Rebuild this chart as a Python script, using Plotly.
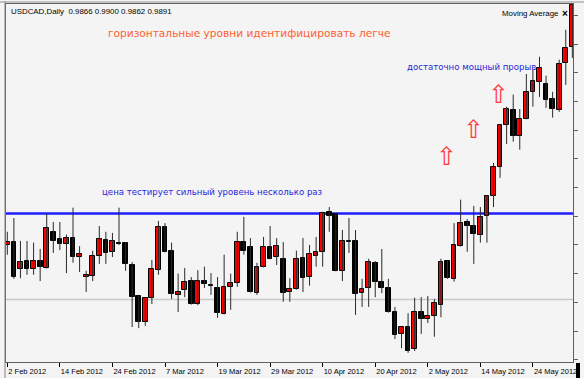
import plotly.graph_objects as go

# ---- data ----
tick_labels = ["2 Feb 2012", "14 Feb 2012", "24 Feb 2012", "7 Mar 2012", "19 Mar 2012",
               "29 Mar 2012", "10 Apr 2012", "20 Apr 2012", "2 May 2012", "14 May 2012",
               "24 May 2012"]
tick_positions = [0, 8, 16, 24, 32, 40, 48, 56, 64, 72, 80]

opens = [0.9995, 1.0000, 0.9953, 0.9967, 0.9953, 0.9967, 0.9955, 1.0018, 1.0006, 0.9997,
         1.0007, 0.9974, 0.9939, 0.9941, 0.9976, 1.0004, 0.9983, 0.9999, 0.9999, 0.9960,
         0.9906, 0.9861, 0.9903, 0.9951, 1.0026, 0.9985, 0.9908, 0.9917, 0.9932, 0.9892,
         0.9932, 0.9925, 0.9920, 0.9875, 0.9922, 0.9929, 1.0000, 0.9992, 0.9911, 0.9957,
         0.9992, 0.9974, 0.9971, 0.9913, 0.9918, 0.9972, 0.9939, 0.9976, 0.9983, 1.0053,
         1.0049, 0.9950, 1.0002, 1.0002, 0.9911, 0.9920, 0.9964, 0.9931, 0.9920, 0.9878,
         0.9840, 0.9852, 0.9814, 0.9878, 0.9866, 0.9871, 0.9890, 0.9967, 0.9936, 0.9993,
         1.0035, 1.0028, 1.0013, 1.0046, 1.0081, 1.0131, 1.0204, 1.0231, 1.0185, 1.0215,
         1.0262, 1.0279, 1.0276, 1.0250, 1.0231, 1.0313, 1.0340]
highs = [1.0018, 1.0042, 1.0002, 1.0002, 0.9999, 0.9988, 1.0049, 1.0035, 1.0035, 1.0013,
         1.0060, 0.9993, 0.9950, 0.9985, 1.0028, 1.0018, 1.0016, 1.0060, 1.0000, 0.9965,
         0.9906, 0.9904, 0.9969, 1.0037, 1.0033, 0.9999, 0.9945, 0.9955, 0.9939, 0.9951,
         0.9957, 0.9946, 0.9939, 0.9978, 0.9945, 1.0018, 1.0044, 1.0007, 0.9964, 1.0009,
         1.0028, 1.0007, 1.0000, 0.9937, 0.9985, 1.0007, 0.9995, 1.0009, 1.0053, 1.0061,
         1.0050, 1.0021, 1.0042, 1.0021, 0.9936, 0.9971, 0.9967, 0.9988, 0.9936, 0.9887,
         0.9853, 0.9876, 0.9903, 0.9904, 0.9906, 0.9901, 0.9971, 0.9968, 1.0033, 1.0074,
         1.0040, 1.0063, 1.0061, 1.0082, 1.0138, 1.0205, 1.0236, 1.0257, 1.0232, 1.0293,
         1.0300, 1.0323, 1.0290, 1.0262, 1.0318, 1.0370, 1.0417]
lows = [0.9978, 0.9936, 0.9937, 0.9943, 0.9943, 0.9932, 0.9954, 0.9981, 0.9986, 0.9946,
        0.9964, 0.9948, 0.9913, 0.9932, 0.9962, 0.9962, 0.9974, 0.9995, 0.9950, 0.9852,
        0.9850, 0.9854, 0.9892, 0.9943, 0.9982, 0.9901, 0.9878, 0.9904, 0.9891, 0.9890,
        0.9920, 0.9908, 0.9868, 0.9874, 0.9882, 0.9922, 0.9978, 0.9912, 0.9908, 0.9956,
        0.9970, 0.9960, 0.9896, 0.9896, 0.9917, 0.9913, 0.9924, 0.9957, 0.9957, 1.0018,
        0.9949, 0.9932, 0.9981, 0.9873, 0.9887, 0.9887, 0.9904, 0.9911, 0.9877, 0.9831,
        0.9815, 0.9807, 0.9810, 0.9840, 0.9859, 0.9835, 0.9869, 0.9936, 0.9931, 0.9992,
        0.9983, 0.9962, 0.9999, 0.9999, 1.0061, 1.0112, 1.0171, 1.0175, 1.0161, 1.0214,
        1.0236, 1.0253, 1.0234, 1.0217, 1.0227, 1.0274, 1.0321]
closes = [1.0000, 0.9939, 0.9965, 0.9953, 0.9967, 0.9957, 1.0025, 1.0002, 0.9997, 1.0007,
          0.9974, 0.9979, 0.9943, 0.9976, 1.0006, 0.9981, 1.0002, 0.9997, 0.9962, 0.9904,
          0.9861, 0.9903, 0.9953, 1.0026, 0.9983, 0.9910, 0.9913, 0.9931, 0.9892, 0.9932,
          0.9927, 0.9924, 0.9876, 0.9922, 0.9929, 1.0000, 0.9985, 0.9913, 0.9957, 0.9992,
          0.9971, 0.9993, 0.9911, 0.9918, 0.9971, 0.9937, 0.9979, 0.9983, 1.0051, 1.0046,
          0.9950, 1.0002, 1.0000, 0.9910, 0.9918, 0.9965, 0.9931, 0.9920, 0.9878, 0.9838,
          0.9852, 0.9810, 0.9878, 0.9866, 0.9871, 0.9894, 0.9965, 0.9937, 0.9995, 1.0033,
          1.0028, 1.0014, 1.0044, 1.0081, 1.0131, 1.0204, 1.0232, 1.0185, 1.0215, 1.0262,
          1.0281, 1.0304, 1.0248, 1.0232, 1.0311, 1.0339, 1.0414]

resistance_level = 1.0050
grey_level = 0.9900

header_text = "USDCAD,Daily  0.9866 0.9900 0.9862 0.9891"
title_text = "горизонтальные уровни идентифицировать легче"
test_text = "цена тестирует сильный уровень несколько раз"
breakout_text = "достаточно мощный прорыв"
arrow_bars = [66.8, 70.9, 74.8]
arrow_prices = [1.0149, 1.0197, 1.0258]

# ---- build ----
n = len(opens)
idx = list(range(n))
wx, wy = [], []
for i in idx:
    wx += [i, i, None]
    wy += [lows[i], highs[i], None]

bull = [i for i in idx if closes[i] >= opens[i]]
bear = [i for i in idx if closes[i] < opens[i]]
MIN_H = 0.00012


def bodies(ids):
    base = [min(opens[i], closes[i]) for i in ids]
    h = [max(abs(closes[i] - opens[i]), MIN_H) for i in ids]
    return base, h


fig = go.Figure()
fig.add_trace(go.Scatter(x=wx, y=wy, mode="lines", line=dict(color="#2a2a2a", width=1),
                         hoverinfo="skip"))
b_base, b_h = bodies(bull)
fig.add_trace(go.Bar(x=bull, y=b_h, base=b_base, width=0.72,
                     marker=dict(color="#ff0000", line=dict(color="#000000", width=1))))
s_base, s_h = bodies(bear)
fig.add_trace(go.Bar(x=bear, y=s_h, base=s_base, width=0.72,
                     marker=dict(color="#000000", line=dict(color="#000000", width=1))))

W, H = 584, 378
ml, mr, mt, mb = 6, 11, 4, 16
pw, ph = W - ml - mr, H - mt - mb


def px(xp):
    return (xp - ml) / pw


def py(yp):
    return 1 - (yp - mt) / ph


shapes = [
    dict(type="line", xref="paper", yref="y", x0=0, x1=1, y0=grey_level, y1=grey_level,
         line=dict(color="#c8c8c8", width=1.5), layer="below"),
    dict(type="line", xref="paper", yref="y", x0=0, x1=1, y0=resistance_level,
         y1=resistance_level, line=dict(color="#1e1eff", width=2.5), layer="below"),
    dict(type="rect", xref="paper", yref="paper", x0=px(576), x1=px(580), y0=py(378),
         y1=py(363), fillcolor="#000000", line=dict(width=0)),
    dict(type="line", xref="paper", yref="paper", x0=px(5), x1=px(5), y0=py(378), y1=py(1),
         line=dict(color="#808080", width=1)),
    dict(type="line", xref="paper", yref="paper", x0=px(0), x1=px(584), y0=py(2), y1=py(2),
         line=dict(color="#909090", width=1)),
]

annotations = [
    dict(text=header_text, xref="paper", yref="paper", x=px(9), y=py(12), xanchor="left",
         yanchor="middle", showarrow=False,
         font=dict(family="Liberation Sans", size=7.9, color="#000000")),
    dict(text="Moving Average", xref="paper", yref="paper", x=px(500), y=py(13),
         xanchor="left", yanchor="middle", showarrow=False,
         font=dict(family="Liberation Sans", size=7.9, color="#000000")),
    dict(text="<b>×</b>", xref="paper", yref="paper", x=px(565), y=py(13),
         xanchor="center", yanchor="middle", showarrow=False,
         font=dict(family="Liberation Sans", size=10, color="#000000")),
    dict(text=title_text, xref="paper", yref="paper", x=px(106), y=py(33),
         xanchor="left", yanchor="middle", showarrow=False,
         font=dict(family="DejaVu Sans", size=10.6, color="#ff6030")),
    dict(text=test_text, xref="paper", yref="paper", x=px(100), y=py(191.5),
         xanchor="left", yanchor="middle", showarrow=False,
         font=dict(family="DejaVu Sans", size=8.6, color="#2626d8")),
    dict(text=breakout_text, xref="paper", yref="paper", x=px(405), y=py(67),
         xanchor="left", yanchor="middle", showarrow=False,
         font=dict(family="DejaVu Sans", size=8.6, color="#2626d8")),
]
for ax_, ay_ in zip(arrow_bars, arrow_prices):
    annotations.append(dict(text="⇧", x=ax_, y=ay_, xref="x", yref="y",
                            xanchor="center", yanchor="middle", showarrow=False,
                            font=dict(family="DejaVu Sans", size=25, color="#ff3a3a")))

fig.update_layout(
    width=W, height=H, autosize=False,
    margin=dict(l=ml, r=mr, t=mt, b=mb, pad=0),
    paper_bgcolor="#f4f4f4", plot_bgcolor="#f4f4f4",
    showlegend=False, barmode="overlay", bargap=0,
    font=dict(family="Liberation Sans", size=8, color="#000000"),
    shapes=shapes, annotations=annotations,
    xaxis=dict(range=[-0.2, 86.1], tickmode="array", tickvals=tick_positions,
               ticktext=tick_labels, ticks="outside", ticklen=4, tickcolor="#000000",
               ticklabelposition="outside right", ticklabelstandoff=2,
               tickfont=dict(size=7.5, color="#000000"),
               showgrid=False, zeroline=False, showline=True, linecolor="#606060",
               linewidth=1, mirror=True, automargin=False, fixedrange=True),
    yaxis=dict(range=[0.9791, 1.0415], side="right", tick0=0.9995, dtick=0.005,
               ticks="outside", ticklen=4, tickcolor="#606060", showticklabels=False,
               showgrid=False, zeroline=False, showline=True, linecolor="#606060",
               linewidth=1, mirror=True, automargin=False, fixedrange=True),
)

fig.write_html("out.html")
